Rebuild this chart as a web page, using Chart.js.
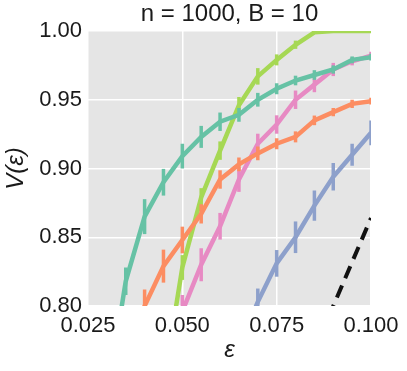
<!DOCTYPE html>
<html>
<head>
<meta charset="utf-8">
<script src="https://cdn.jsdelivr.net/npm/chart.js@4"></script>
<style>
  body { margin: 0; background: #fff; }
</style>
</head>
<body>
<canvas id="myChart" width="407" height="371"></canvas>
<script>
// V(eps) curves, n = 1000, B = 10

var eps = [0.025, 0.030, 0.035, 0.040, 0.045, 0.050, 0.055, 0.060, 0.065, 0.070, 0.075, 0.080, 0.085, 0.090, 0.095, 0.100];

var green    = [null, 0.732, 0.818, 0.865, 0.890, 0.909, 0.923, 0.934, 0.939, 0.950, 0.958, 0.964, 0.968, 0.972, 0.979, 0.981];
var greenErr = [null, 0.012, 0.010, 0.0127, 0.0097, 0.009, 0.008, 0.0067, 0.005, 0.005, 0.004, 0.0035, 0.0035, 0.003, 0.0025, 0.0025];

var orange    = [null, null, 0.760, 0.800, 0.829, 0.848, 0.867, 0.892, 0.903, 0.911, 0.918, 0.923, 0.935, 0.941, 0.947, 0.949];
var orangeErr = [null, null, 0.012, 0.012, 0.012, 0.0097, 0.007, 0.0067, 0.005, 0.005, 0.004, 0.004, 0.0035, 0.003, 0.003, 0.0025];

var blue    = [null, null, null, null, null, null, null, null, 0.770, 0.803, 0.831, 0.850, 0.873, 0.894, 0.910, 0.926];
var blueErr = [null, null, null, null, null, null, null, null, 0.012, 0.0097, 0.0097, 0.0115, 0.011, 0.010, 0.008, 0.009];

var pink    = [null, null, null, null, 0.760, 0.796, 0.830, 0.858, 0.892, 0.918, 0.932, 0.950, 0.961, 0.972, 0.978, 0.982];
var pinkErr = [null, null, null, null, 0.012, 0.012, 0.012, 0.0097, 0.009, 0.0073, 0.0067, 0.0067, 0.0055, 0.0048, 0.003, 0.003];

var lime    = [null, null, null, null, 0.743, 0.828, 0.879, 0.913, 0.946, 0.967, 0.979, 0.990, 0.999, 1.000, 1.000, 1.000];
var limeErr = [null, null, null, null, 0.012, 0.009, 0.0067, 0.0067, 0.006, 0.006, 0.004, 0.003, 0.001, 0, 0, 0];

var bound = [null, null, null, null, null, null, null, null, null, null, null, 0.736, 0.768, 0.800, 0.832, 0.864];

var yTicks = [0.80, 0.85, 0.90, 0.95, 1.00];
var xTicks = [0.025, 0.050, 0.075, 0.100];

var titulo = 'n = 1000, B = 10';

function pts (ys) {
    return eps.map(function (x, i) { return { x: x, y: ys[i] }; });
}

function serie (ys, errs, color) {
    return {
        data: pts(ys),
        errs: errs,
        borderColor: color,
        backgroundColor: color,
        borderWidth: 4.5,
        pointRadius: 0,
        spanGaps: false,
        clip: 0
    };
}

var font = 'Liberation Sans, Arial, sans-serif';

// gray panel behind the plot + title centred over the panel
var panel = {
    id: 'panel',
    beforeDraw: function (chart) {
        var a = chart.chartArea, c = chart.ctx;
        c.save();
        c.fillStyle = '#e5e5e5';
        c.fillRect(a.left, a.top, a.right - a.left, a.bottom - a.top);
        c.restore();
    },
    afterDraw: function (chart) {
        var a = chart.chartArea, c = chart.ctx;
        c.save();
        c.fillStyle = '#1a1a1a';
        c.font = '24px ' + font;
        c.textAlign = 'center';
        c.textBaseline = 'middle';
        c.fillText(titulo, (a.left + a.right) / 2, 14);
        c.restore();
    }
};

// vertical error bars, drawn with each line
var errBars = {
    id: 'errBars',
    afterDatasetDraw: function (chart, args) {
        var ds = chart.data.datasets[args.index];
        if (!ds.errs) return;
        var a = chart.chartArea, c = chart.ctx;
        var xs = chart.scales.x, ys = chart.scales.y;
        c.save();
        c.beginPath();
        c.rect(a.left, a.top, a.right - a.left, a.bottom - a.top);
        c.clip();
        c.strokeStyle = ds.borderColor;
        c.lineWidth = 3.5;
        ds.data.forEach(function (p, i) {
            var e = ds.errs[i];
            if (p.y == null || !e) return;
            var px = xs.getPixelForValue(p.x);
            c.beginPath();
            c.moveTo(px, ys.getPixelForValue(p.y - e));
            c.lineTo(px, ys.getPixelForValue(p.y + e));
            c.stroke();
        });
        c.restore();
    }
};

var ctx = document.getElementById('myChart').getContext('2d');
var myChart = new Chart(ctx, {
    type: 'line',
    data: {
        datasets: [
            serie(green, greenErr, '#66c2a5'),
            serie(orange, orangeErr, '#fc8d62'),
            serie(blue, blueErr, '#8da0cb'),
            serie(pink, pinkErr, '#e78ac3'),
            serie(lime, limeErr, '#a6d854'),
            {
                data: pts(bound),
                borderColor: '#111111',
                borderWidth: 4,
                borderDash: [13, 8],
                pointRadius: 0,
                clip: 0
            }
        ]
    },
    options: {
        responsive: false,
        devicePixelRatio: 1,
        animation: false,
        layout: { padding: { left: 0, right: 36, top: 31, bottom: 0 } },
        plugins: {
            legend: { display: false },
            tooltip: { enabled: false },
            title: { display: false }
        },
        scales: {
            x: {
                type: 'linear',
                min: 0.025,
                max: 0.100,
                afterFit: function (s) { s.height = 65; },
                afterBuildTicks: function (s) { s.ticks = xTicks.map(function (v) { return { value: v }; }); },
                border: { display: false },
                grid: { color: '#ffffff', lineWidth: 1.5, drawTicks: false },
                ticks: {
                    padding: 7,
                    color: '#1a1a1a',
                    font: { family: font, size: 22 },
                    callback: function (v) { return Number(v).toFixed(3); }
                },
                title: {
                    display: true,
                    text: 'ε',
                    color: '#1a1a1a',
                    font: { family: font, size: 24, style: 'italic' },
                    padding: { top: 0, bottom: 6 }
                }
            },
            y: {
                min: 0.80,
                max: 1.00,
                afterFit: function (s) { s.width = 88; },
                afterBuildTicks: function (s) { s.ticks = yTicks.map(function (v) { return { value: v }; }); },
                border: { display: false },
                grid: { color: '#ffffff', lineWidth: 1.5, drawTicks: false },
                ticks: {
                    padding: 6,
                    color: '#1a1a1a',
                    font: { family: font, size: 22 },
                    callback: function (v) { return Number(v).toFixed(2); }
                },
                title: {
                    display: true,
                    text: 'V(ε)',
                    color: '#1a1a1a',
                    font: { family: font, size: 24, style: 'italic' },
                    padding: { top: 2, bottom: 0 }
                }
            }
        }
    },
    plugins: [panel, errBars]
});
</script>
</body>
</html>
